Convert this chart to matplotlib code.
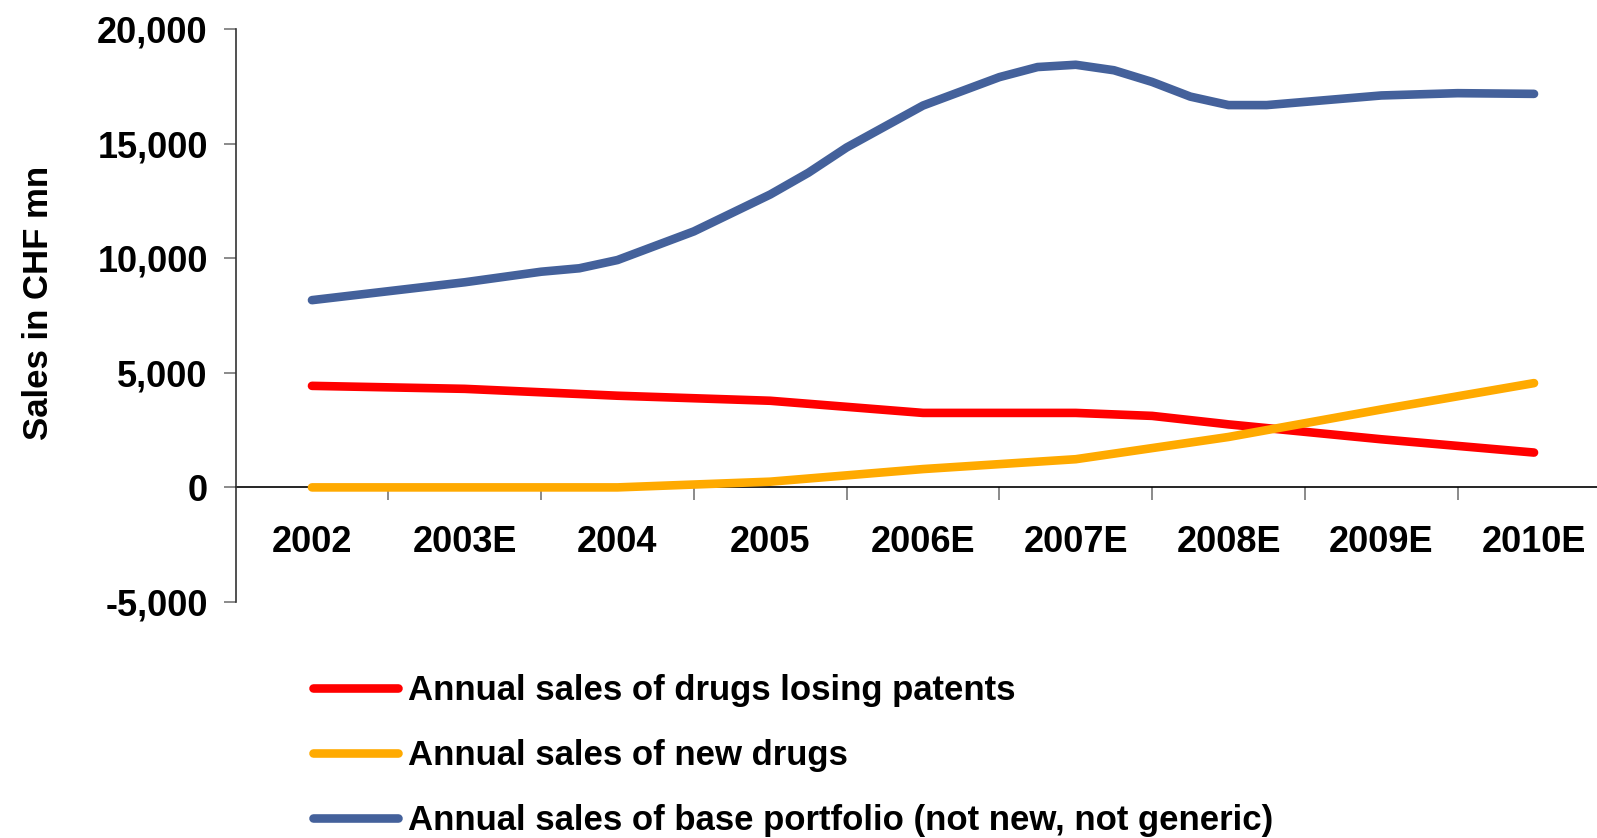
import matplotlib
matplotlib.use("Agg")
import matplotlib.pyplot as plt
from matplotlib.ticker import FuncFormatter, FixedLocator

# Category labels along the x axis (one per year)
years = ["2002", "2003E", "2004", "2005", "2006E", "2007E", "2008E", "2009E", "2010E"]

# Each series is given as (position on the year axis, sales in CHF mn)
patent_loss_pos = [0, 1, 2, 3, 4, 5, 5.5, 6, 7, 8]
patent_loss_sales = [4430, 4300, 4000, 3780, 3250, 3250, 3120, 2750, 2100, 1520]

new_drugs_pos = [0, 1, 2, 3, 4, 5, 6, 7, 8]
new_drugs_sales = [0, 0, 0, 250, 800, 1230, 2200, 3400, 4550]

base_pos = [0, 1, 1.5, 1.75, 2, 2.5, 3, 3.25, 3.5, 4, 4.5, 4.75, 5,
            5.25, 5.5, 5.75, 6, 6.25, 7, 7.5, 8]
base_sales = [8170, 8950, 9410, 9560, 9920, 11170, 12780, 13730, 14830,
              16660, 17900, 18340, 18440, 18200, 17690, 17050, 16680,
              16680, 17100, 17200, 17170]

series_labels = [
    "Annual sales of drugs losing patents",
    "Annual sales of new drugs",
    "Annual sales of base portfolio (not new, not generic)",
]
colors = ["#FF0000", "#FFAA00", "#44619B"]

plt.rcParams["font.family"] = ["Liberation Sans", "DejaVu Sans"]
plt.rcParams["font.weight"] = "bold"

W, H = 1597, 838
fig = plt.figure(figsize=(W / 100, H / 100), dpi=100)
left, right, top, bottom = 235.6, 1610.4, 29, 602
ax = fig.add_axes([left / W, 1 - bottom / H, (right - left) / W, (bottom - top) / H])

line_kw = dict(lw=6.2, solid_capstyle="round", solid_joinstyle="round", zorder=3)
handles = []
for pos, vals, col, lab in [
    (patent_loss_pos, patent_loss_sales, colors[0], series_labels[0]),
    (new_drugs_pos, new_drugs_sales, colors[1], series_labels[1]),
    (base_pos, base_sales, colors[2], series_labels[2]),
]:
    h, = ax.plot(pos, vals, color=col, label=lab, **line_kw)
    handles.append(h)

ax.set_xlim(-0.5, 8.5)
ax.set_ylim(-5000, 20000)

# Spines: left axis, horizontal axis through zero
for s in ["top", "right"]:
    ax.spines[s].set_visible(False)
ax.spines["left"].set_color("#333333")
ax.spines["left"].set_linewidth(1.2)
ax.spines["bottom"].set_position(("data", 0))
ax.spines["bottom"].set_color("black")
ax.spines["bottom"].set_linewidth(1.2)
ax.spines["bottom"].set_zorder(2)

# Y axis ticks
ax.set_yticks([-5000, 0, 5000, 10000, 15000, 20000])
ax.yaxis.set_major_formatter(FuncFormatter(lambda v, p: f"{v:,.0f}"))
ax.tick_params(axis="y", direction="out", length=9, width=1.2, color="#777777",
               labelsize=26, pad=11)

# X axis: labels at categories, tick marks between them
ax.xaxis.set_major_locator(FixedLocator(range(len(years))))
ax.set_xticklabels(years)
ax.xaxis.set_minor_locator(FixedLocator([i + 0.5 for i in range(len(years) - 1)]))
ax.tick_params(axis="x", which="major", length=0, labelsize=26, pad=27)
ax.tick_params(axis="x", which="minor", direction="out", length=9, width=1.2,
               color="#777777")

for lbl in ax.get_xticklabels() + ax.get_yticklabels():
    lbl.set_fontweight("bold")

fig.text(39 / W, 1 - 303 / H, "Sales in CHF mn", rotation=90, ha="center",
         va="center", fontsize=25, fontweight="bold")

leg = fig.legend(handles=handles, loc="upper left",
                 bbox_to_anchor=(313 / W, 1 - 674 / H), frameon=False,
                 fontsize=25, handlelength=2.45, handletextpad=0.3,
                 labelspacing=0.92, borderaxespad=0, borderpad=0)
for t in leg.get_texts():
    t.set_fontweight("bold")

fig.savefig("out.png", dpi=100)
